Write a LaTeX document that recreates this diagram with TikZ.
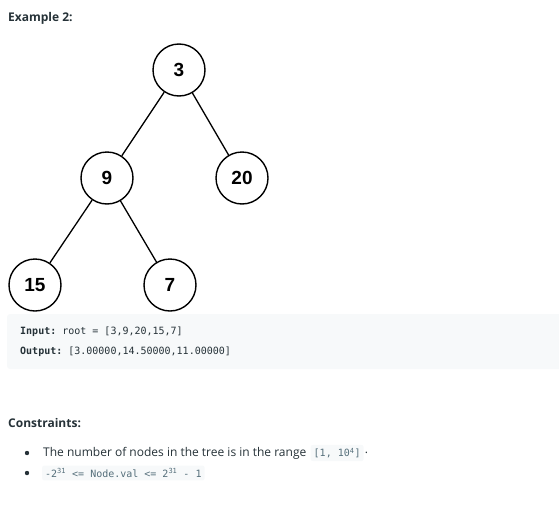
\documentclass[tikz,border=0pt]{standalone}
\usepackage{fontspec}
\setmainfont{Open Sans}
\setsansfont{Liberation Sans}
\setmonofont{DejaVu Sans Mono}
\usepackage{xcolor}
\usetikzlibrary{positioning}
\definecolor{txtcolor}{HTML}{263238}
\definecolor{codebg}{HTML}{F7F9FA}
\definecolor{inlinecode}{HTML}{546E7A}
\newcommand{\code}[1]{\texttt{#1}}

\begin{document}
\begin{tikzpicture}[
  x=1pt, y=-1pt,
  treenode/.style={draw, circle, line width=1.4pt, minimum size=52pt, inner sep=0pt,
    font=\sffamily\bfseries\fontsize{19}{19}\selectfont},
  edge/.style={line width=1.3pt},
  heading/.style={anchor=west, inner sep=0pt, text=txtcolor,
    font=\bfseries\fontsize{12}{14}\selectfont},
  codeline/.style={anchor=west, inner sep=0pt, text=txtcolor,
    font=\ttfamily\fontsize{10}{12}\selectfont},
  bodytext/.style={anchor=west, inner sep=0pt, text=txtcolor,
    font=\fontsize{12}{15}\selectfont},
  chip/.style={anchor=west, fill=codebg, rounded corners=2pt, inner xsep=3pt, inner ysep=3pt,
    text=inlinecode, font=\ttfamily\fontsize{10}{12}\selectfont},
]
  \useasboundingbox (0,0) rectangle (559,506);

  % Heading
  \node[heading] (ex) at (8,18) {Example 2:};

  % Tree
  \node[treenode] (n3) at (179,70) {3};
  \node[treenode] (n9) at (107,178) {9};
  \node[treenode] (n20) at (242,178) {20};
  \node[treenode] (n15) at (35,285) {15};
  \node[treenode] (n7) at (170,285) {7};
  \draw[edge] (n3) -- (n9);
  \draw[edge] (n3) -- (n20);
  \draw[edge] (n9) -- (n15);
  \draw[edge] (n9) -- (n7);

  % Input / output block
  \fill[codebg, rounded corners=3pt] (7,314) rectangle (565,369);
  \node[codeline] (inp) at (20,332) {\textbf{Input:} root = [3,9,20,15,7]};
  \node[codeline] (outp) at (20,352) {\textbf{Output:} [3.00000,14.50000,11.00000]};

  % Constraints
  \node[heading] (cons) at (8,423) {Constraints:};
  \fill[txtcolor] (27,453) circle (2.2pt);
  \fill[txtcolor] (27,473) circle (2.2pt);
  \node[bodytext] (c1) at (43,453) {The number of nodes in the tree is in the range};
  \node[chip, right=4pt of c1] (r1) {[1, 10\textsuperscript{4}]};
  \node[bodytext, right=1pt of r1] {.};
  \node[chip] (c2) at (42,473)
    {-2\textsuperscript{31} <= Node.val <= 2\textsuperscript{31} - 1};
\end{tikzpicture}
\end{document}
